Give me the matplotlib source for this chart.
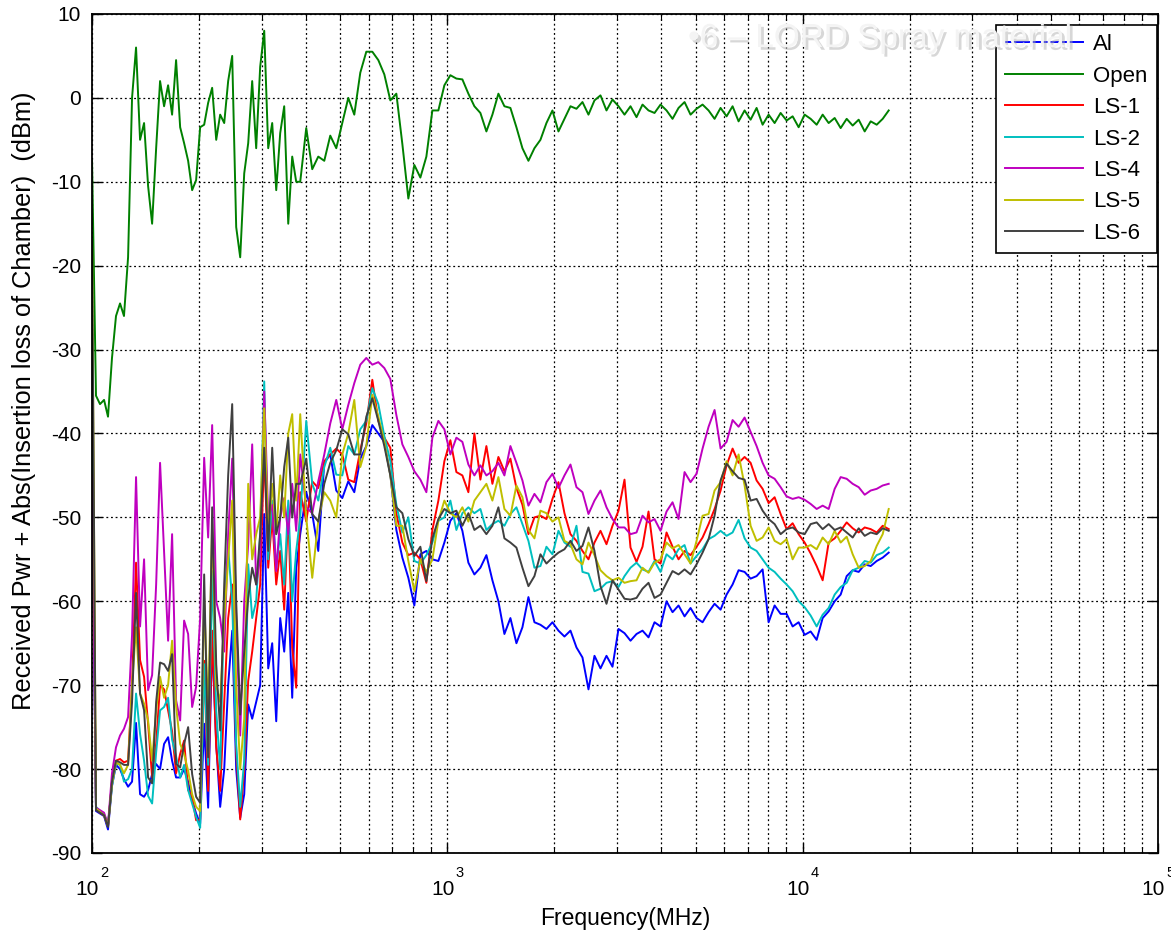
import matplotlib
matplotlib.use("Agg")
import matplotlib.pyplot as plt
import matplotlib.patheffects as pe
import matplotlib.transforms as mtransforms
from matplotlib.ticker import LogLocator, NullFormatter

# sweep frequencies (MHz), shared by all traces
FREQ_MHZ = [
    100.0, 102.6, 105.3, 108.1, 110.9, 113.8, 116.8, 119.9, 123.0, 126.3,
    129.6, 133.0, 136.5, 140.1, 143.8, 147.6, 151.5, 155.4, 159.5, 163.7,
    168.0, 172.4, 177.0, 181.6, 186.4, 191.3, 196.3, 201.5, 206.8, 212.2,
    217.8, 223.6, 229.4, 235.5, 241.6, 248.0, 254.5, 261.2, 268.1, 275.1,
    282.3, 289.7, 297.3, 305.2, 313.2, 321.4, 329.9, 338.5, 347.4, 356.6,
    365.9, 375.5,
    385.4, 400.7, 416.6, 433.2, 450.4, 468.2, 486.8, 506.2, 526.2, 547.1,
    568.8, 591.4, 614.9, 639.3, 664.6, 691.0, 718.5, 747.0, 776.6, 807.4,
    839.5, 872.8, 907.4, 943.4, 980.8, 1019.7, 1060.2, 1102.2, 1145.9, 1191.4,
    1238.7, 1287.8, 1338.9, 1392.0, 1447.3, 1504.7, 1564.4, 1626.5, 1691.0, 1758.1,
    1827.9, 1900.4, 1975.8, 2054.2, 2135.7, 2220.5, 2308.6, 2400.2, 2495.4, 2594.4,
    2697.4, 2804.4, 2915.7, 3031.4, 3151.7, 3276.7, 3406.7, 3541.9, 3682.4, 3828.5,
    3980.5, 4138.4, 4302.6, 4473.3, 4650.8, 4835.3, 5027.2, 5226.7, 5434.1, 5649.7,
    5873.9, 6107.0, 6349.3, 6601.2, 6863.2, 7135.5, 7418.6, 7713.0, 8019.1, 8337.3,
    8668.1, 9012.0, 9369.6, 9741.4, 10128, 10530, 10948, 11382, 11834, 12303,
    12791, 13299, 13827, 14375, 14946, 15539, 16155, 16796, 17463,
]

AL = [
    -45, -85, -85.3, -85.6, -87.2, -82, -79.5, -80, -81.2, -82.1,
    -81.5, -74.5, -83, -83.3, -82.5, -80.6, -79.4, -80, -77, -76.2,
    -79, -81, -81, -80, -81.5, -83.7, -85.3, -86.5, -74.6, -84.6,
    -64.7, -77, -84.5, -80, -70, -63.5, -80, -85.8, -83, -72.3,
    -74, -72, -70, -49.6, -68, -65, -74.3, -62, -66, -59,
    -71.5, -56,
    -52, -47, -49.6, -54, -43.5, -42.5, -46.8, -47.7, -45.7, -47,
    -43, -41.5, -39, -40, -41, -44.9, -51.5, -54.8, -57.2, -60.5,
    -54.4, -54, -55, -55.2, -53, -50.4, -49.5, -51.6, -55.4, -56.8,
    -56, -54.5, -57.5, -60, -63.9, -62, -65, -63.1, -59.5, -62.5,
    -62.8, -63.3, -62.5, -63.5, -64.2, -63.5, -65.5, -66.7, -70.5, -66.5,
    -68, -66.5, -67.8, -63.3, -63.8, -64.7, -63.9, -63.5, -64.3, -62.5,
    -63, -60, -61.3, -60.5, -61.8, -60.8, -62, -62.5, -61.3, -60.3,
    -61, -59.2, -58, -56.3, -56.5, -57.3, -57, -56.2, -62.5, -60.5,
    -61.5, -61.5, -63, -62.5, -64, -63.6, -64.6, -62, -61.2, -60,
    -59.2, -57, -56.3, -56.5, -55.6, -55.8, -55.2, -54.8, -54.2,
]

OPEN = [
    -7.5, -35.5, -36.5, -36, -38, -31, -26, -24.5, -26, -19,
    0, 6, -5, -3, -10.5, -15, -6, 2, -1, 1.5,
    -2, 4.5, -3.5, -5.4, -7.5, -11, -9.8, -3.5, -3.2, -0.6,
    1.2, -5, -2, -3, 2, 5, -15.4, -19, -9, -5.4,
    2, -6, 3.7, 8, -6, -3, -11, -4.2, -1, -15,
    -7, -10,
    -10, -3.6, -8.5, -7, -7.5, -4.5, -6, -3, 0, -2,
    3, 5.5, 5.5, 4.5, 2.8, -0.3, 0.5, -5.5, -12, -8,
    -9.5, -7, -1.5, -1.5, 1.5, 2.7, 2.3, 2.2, 0.5, -1,
    -1.8, -4, -2, 0.5, -1, -1.2, -3.5, -6, -7.5, -6,
    -5, -3, -1.5, -4, -2.5, -1, -1.3, -0.5, -2, -0.3,
    0.3, -1.5, -0.2, -1, -2, -1, -2.3, -0.8, -1.5, -1.8,
    -0.8, -1.5, -2.5, -1.2, -0.5, -2, -1.3, -0.8, -1.5, -2.5,
    -1.2, -2.2, -1, -2.8, -1.5, -2.6, -1.2, -3.2, -2, -3,
    -1.8, -2.7, -2.2, -3.5, -2, -2.5, -3.2, -2, -3, -2.4,
    -3.6, -2.5, -3.3, -2.6, -4, -2.8, -3.2, -2.5, -1.5,
]

LS1 = [
    -40, -84.8, -85.2, -85.5, -86.8, -81.5, -79, -78.8, -79.2, -79,
    -70, -55.4, -67, -69, -74.6, -81, -77, -70, -70.5, -73,
    -75.5, -80.5, -78.2, -76.6, -82.5, -83.3, -86.1, -86, -67.1, -82.6,
    -63.5, -77.4, -82.6, -72, -62, -58, -78, -86, -80, -69.5,
    -66, -62, -58, -42, -56, -50, -58, -54, -61, -49,
    -65.5, -70.3,
    -47, -50.5, -45.7, -46.5, -43.3, -42.5, -41.8, -42.5, -45.5, -45.8,
    -42, -38.8, -33.6, -38.5, -40.5, -41.7, -49.5, -53, -54.5, -54.2,
    -55, -57.8, -51.5, -48, -43.3, -40.8, -44.6, -45, -47, -40,
    -45.5, -41.5, -46, -42.8, -44.5, -43, -46.5, -48.5, -52, -50,
    -49.8, -50.2, -47.8, -45.8, -49.5, -52, -52.8, -54, -55, -53,
    -51.6, -53.2, -51, -49.2, -45.5, -53.6, -55.3, -53.5, -49.3, -55,
    -55.5, -51.8, -53.5, -55, -54, -54.5, -53.5, -52.4, -50.8, -49,
    -46.8, -43.8, -41.8, -43.5, -42.8, -43.5, -45.6, -46.6, -48.3, -47.6,
    -49.6, -51.4, -50.7, -52, -53, -54.3, -55.8, -57.5, -53, -52.5,
    -51.6, -50.6, -51.3, -51.8, -51.2, -51.4, -51.8, -51, -51.4,
]

LS2 = [
    -42, -84.5, -85, -85.4, -86.5, -82, -79.3, -79.5, -81.5, -81.2,
    -80, -71, -75.8, -79, -83.2, -84.1, -78, -73, -72.6, -71.5,
    -76.5, -78.5, -81, -79.5, -82.5, -84.1, -85.7, -87, -67.5, -79.5,
    -56.4, -73, -80, -60, -53.6, -60, -77, -84.5, -79, -55.6,
    -62, -60, -52, -33.8, -55, -48, -56, -52, -58, -48,
    -60, -54,
    -50, -38.5, -46, -48, -44, -41.7, -44.9, -45, -41.5, -42.5,
    -39.5, -38.5, -34.6, -36.5, -40.3, -43.3, -48.5, -51.8, -50, -55.2,
    -55.5, -54.5, -53, -50.4, -50, -48, -51.5, -49.5, -48.8, -49.5,
    -49, -51.5, -50.8, -50.4, -51, -49.6, -48.8, -50.8, -52.8, -56,
    -55.8, -53.5, -54.4, -51.6, -53, -53.5, -51, -56.5, -56.7, -58.8,
    -58.5, -57.8, -57.6, -58.3, -57, -56, -55.4, -56.2, -56.5, -55.2,
    -56.5, -54.4, -55, -53.8, -53.3, -55.5, -54.6, -53.8, -52.6, -52.2,
    -51.6, -52.2, -51.8, -50.3, -52.5, -53.6, -54, -55, -56, -56.5,
    -57.3, -58, -58.8, -60, -60.7, -61.7, -63, -61.6, -60.8, -59.2,
    -58.3, -57.8, -56.3, -56, -55.2, -55.4, -54.5, -54.2, -53.6,
]

LS4 = [
    -45, -84.6, -84.9, -85.2, -86.6, -80.5, -77.4, -76, -75.2, -73.8,
    -64, -45.2, -63, -55, -70.6, -68.8, -58, -43.5, -54, -64.7,
    -52, -71.8, -74.2, -62.3, -63.9, -72.6, -70.2, -62, -42.9, -52.4,
    -39, -60, -62, -66, -52, -43, -62, -76, -60, -53.2,
    -41.3, -58, -54.8, -35, -50, -48.5, -56.4, -50, -47.7, -52,
    -46, -51.6,
    -42.5, -48.8, -49.5, -45.7, -42.5, -38.8, -36, -39.5, -36.6, -34,
    -31.8, -31, -31.8, -31.5, -32.2, -33.5, -37.8, -41.3, -42.8, -44.5,
    -45.5, -47, -40.5, -38.5, -39.5, -42.5, -40.5, -41, -43.7, -45,
    -43.8, -45, -44.5, -43.5, -45, -41.5, -43.5, -45.6, -48.6, -47.2,
    -48.2, -45.8, -44.8, -46.5, -45, -43.7, -46.4, -47, -49.6, -48,
    -46.8, -48.8, -50.2, -51.2, -51.2, -52, -51.8, -49.8, -50.6, -50.2,
    -51.6, -49.3, -48.2, -50.2, -44.6, -45.8, -44.8, -41.8, -39.2, -37.2,
    -41.8, -41, -38.4, -39.2, -38.1, -39.8, -41.5, -43.5, -45, -45.4,
    -46.4, -47.5, -47.8, -47.6, -47.9, -48.4, -49, -48.6, -49, -46.6,
    -45.2, -45.4, -46, -46.4, -47.3, -46.8, -46.6, -46.2, -46,
]

LS5 = [
    -17, -84.7, -85.1, -85.5, -86.8, -81.8, -79.2, -79.5, -80.5, -79.5,
    -70, -63.1, -71, -72.2, -74.2, -79, -73, -69, -71.5, -70,
    -64.7, -72.5, -77, -78.2, -80.2, -83, -84.5, -85, -59.6, -73.5,
    -50.8, -70, -72, -62, -55, -48, -70, -80, -74, -46,
    -55, -52, -50, -37, -52, -46, -52, -45, -50, -40,
    -37.7, -48,
    -37.7, -50, -57.2, -50.4, -47, -48, -50, -42.5, -40, -36,
    -44, -41.5, -35.4, -38, -41, -45, -51, -51, -55.2, -58.8,
    -55, -56.5, -55, -50.4, -48, -49.5, -50, -48.8, -50.5, -48,
    -47, -46, -48, -45.2, -49, -49.8, -46.2, -47.6, -51.5, -52.5,
    -49.2, -49.5, -50.5, -50, -52.8, -53.2, -55, -55.6, -53, -54.5,
    -56.3, -57, -57.5, -57.2, -57.8, -57.6, -57.5, -56, -56.6, -55.4,
    -55, -53, -53.7, -53.3, -54.4, -55.5, -52.8, -49.8, -49.6, -46.8,
    -45.8, -43.3, -45, -42.5, -46.2, -51, -52.8, -52.4, -51.2, -52.8,
    -53.2, -52.6, -55, -53.6, -53.6, -53.3, -53.8, -52.4, -53.2, -51.6,
    -53, -52.3, -54.4, -56, -55.8, -55.2, -53.4, -52, -49,
]

LS6 = [
    -17, -84.9, -85.2, -85.5, -86.9, -81.5, -79, -79.2, -79.5, -79.5,
    -72, -59, -71, -73, -81, -81.7, -72, -67.3, -67.5, -68.3,
    -66.3, -79.4, -79.8, -77, -75, -80.6, -83.3, -84, -56.8, -78.6,
    -48.8, -67.5, -75.4, -58, -45, -36.5, -60, -73.5, -66, -59.6,
    -56, -58, -52, -41.7, -54, -41.7, -52, -50, -44, -40.5,
    -50, -46,
    -46, -43, -49.6, -50.5, -46, -43.5, -42, -39.5, -40.1, -42.5,
    -42.5, -38, -35.8, -38.5, -41.5, -45, -48.8, -49.5, -52.6, -54.6,
    -53.5, -57.6, -52.5, -50.2, -49, -49.5, -49.2, -51, -49.5, -51.5,
    -51, -52, -51, -48.8, -52.5, -53, -53.6, -56, -58.2, -57,
    -54.4, -55.5, -54.8, -54.2, -53.8, -52.8, -54, -53.4, -51.2, -54,
    -58.2, -60.3, -57.5, -58.6, -59.7, -59.8, -59.6, -58.5, -57.8, -59.6,
    -59.2, -57.8, -56.4, -56.8, -56.2, -56.8, -55.6, -54.2, -52.6, -49.8,
    -45.6, -43.6, -44.5, -45.3, -45.5, -48, -47.8, -49.2, -50.2, -50.8,
    -52, -51.4, -51.2, -51.8, -52, -50.8, -50.6, -51.4, -50.8, -51.5,
    -51.2, -51.8, -52.4, -51.3, -52.2, -51.8, -52, -51.3, -51.6,
]

SERIES = [
    ("Al", AL, "#0000ff"),
    ("Open", OPEN, "#008000"),
    ("LS-1", LS1, "#ff0000"),
    ("LS-2", LS2, "#00bfbf"),
    ("LS-4", LS4, "#bf00bf"),
    ("LS-5", LS5, "#bfbf00"),
    ("LS-6", LS6, "#404040"),
]

DECADE_EXPONENTS = [2, 3, 4, 5]


def main():
    plt.rcParams["font.family"] = ["Liberation Sans", "DejaVu Sans"]
    plt.rcParams["axes.unicode_minus"] = False

    fig = plt.figure(figsize=(11.71, 9.31), dpi=100)
    ax = fig.add_axes([0.0786, 0.0838, 0.9103, 0.9012])

    for name, vals, color in SERIES:
        ax.plot(FREQ_MHZ, vals, color=color, lw=1.4, label=name)

    ax.set_xscale("log")
    ax.set_xlim(100, 1e5)
    ax.set_ylim(-90, 10)
    ax.set_yticks(range(-90, 11, 10))
    ax.xaxis.set_major_locator(LogLocator(base=10, numticks=10))
    ax.xaxis.set_minor_locator(LogLocator(base=10, subs=range(2, 10), numticks=100))
    ax.xaxis.set_major_formatter(NullFormatter())
    ax.xaxis.set_minor_formatter(NullFormatter())

    dots = (0, (1.5, 2.2))
    ax.grid(True, which="major", color="k", ls=dots, lw=0.9)
    ax.grid(True, which="minor", axis="x", color="k", ls=dots, lw=0.9)
    ax.set_axisbelow(True)

    ax.tick_params(which="both", direction="in", top=True, right=True,
                   labelsize=15, colors="k")
    ax.tick_params(which="major", length=7, width=1, pad=8)
    ax.tick_params(which="minor", length=4, width=0.8)
    for sp in ax.spines.values():
        sp.set_linewidth(1.3)
        sp.set_color("k")

    # MATLAB-style decade labels: "10" with a raised exponent
    base = mtransforms.blended_transform_factory(ax.transData, ax.transAxes)
    for e in DECADE_EXPONENTS:
        t10 = mtransforms.offset_copy(base, fig=fig, x=7, y=-42, units="dots")
        ax.text(10 ** e, 0, "10", transform=t10, ha="right", va="baseline",
                fontsize=15, clip_on=False)
        tex = mtransforms.offset_copy(base, fig=fig, x=8, y=-24, units="dots")
        ax.text(10 ** e, 0, str(e), transform=tex, ha="left", va="baseline",
                fontsize=10.5, clip_on=False)

    ax.set_xlabel("Frequency(MHz)", fontsize=16.5)
    ax.xaxis.set_label_coords(0.5, -0.064)
    ax.set_ylabel("Received Pwr + Abs(Insertion loss of Chamber)  (dBm)",
                  fontsize=18.3)
    ax.yaxis.set_label_coords(-0.0525, 0.5387)

    leg = ax.legend(loc="upper right", bbox_to_anchor=(0.999, 0.987),
                    borderaxespad=0, fontsize=16, fancybox=False,
                    framealpha=1, edgecolor="k", handlelength=3.5,
                    labelspacing=0.47, borderpad=0.42, handletextpad=0.45)
    leg.get_frame().set_linewidth(1.2)
    for line in leg.get_lines():
        line.set_linewidth(1.4)

    # faint overlay text from the original slide
    fig.text(688 / 1171, 1 - 47 / 931, "\u20226 \u2013 LORD Spray material",
             fontsize=24, color="#f4f4f4", zorder=20,
             path_effects=[pe.withSimplePatchShadow(offset=(2, -2),
                                                    shadow_rgbFace="#b0b0b0",
                                                    alpha=0.5)])

    fig.savefig("out.png", dpi=100)
    plt.close(fig)


if __name__ == "__main__":
    main()
